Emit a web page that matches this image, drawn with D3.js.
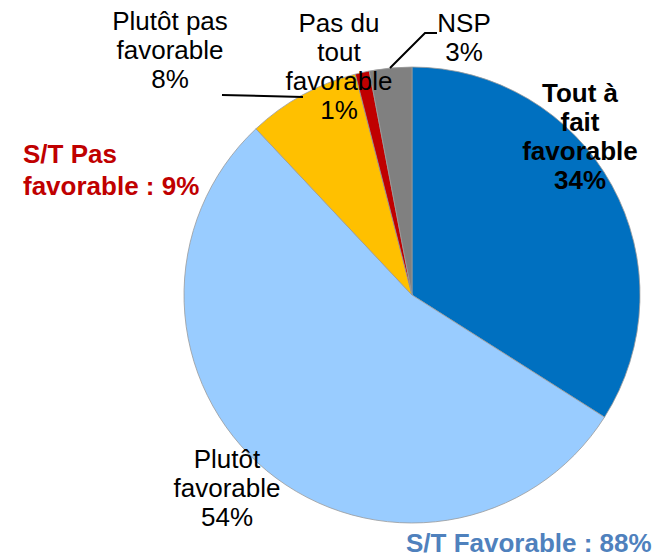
<!DOCTYPE html>
<html>
<head>
<meta charset="utf-8">
<script src="https://cdn.jsdelivr.net/npm/d3@7"></script>
<style>
  body { margin: 0; background: #fff; }
  svg { display: block; font-family: Arial, "Liberation Sans", sans-serif; }
</style>
</head>
<body>
<div id="chart"></div>
<script>
// slices, clockwise from 12 o'clock
const categories = ['Tout à fait favorable', 'Plutôt favorable', 'Plutôt pas favorable', 'Pas du tout favorable', 'NSP'];
const values = [34, 54, 8, 1, 3];
const colors = ['#0070C0', '#99CCFF', '#FFC000', '#C00000', '#808080'];
const labelLines = [
  ['Tout à', 'fait', 'favorable', '34%'],
  ['Plutôt', 'favorable', '54%'],
  ['Plutôt pas', 'favorable', '8%'],
  ['Pas du', 'tout', 'favorable', '1%'],
  ['NSP', '3%'],
];
const summaries = ['S/T Pas', 'favorable : 9%', 'S/T Favorable : 88%'];

const width = 670, height = 559;
const cx = 412, cy = 295, radius = 228;

const svg = d3.select('#chart')
  .append('svg')
  .attr('width', width)
  .attr('height', height);

const pie = d3.pie().sort(null).value((d) => d)
  .startAngle(0).endAngle(2 * Math.PI);
const arc = d3.arc().innerRadius(0).outerRadius(radius);

const g = svg.append('g').attr('transform', `translate(${cx},${cy})`);

g.selectAll('path')
  .data(pie(values))
  .join('path')
  .attr('d', arc)
  .attr('fill', (d, i) => colors[i])
  .attr('stroke', '#9a9a9a')
  .attr('stroke-width', 0.8);

// label placement (center x, first baseline, weight)
const labelPos = [
  { x: 580, y: 102, bold: true },
  { x: 227, y: 468, bold: false },
  { x: 170, y: 30, bold: false },
  { x: 339, y: 32, bold: false },
  { x: 464, y: 32, bold: false },
];
const lineH = 29;

labelLines.forEach((lines, i) => {
  const p = labelPos[i];
  const t = svg.append('text')
    .attr('text-anchor', 'middle')
    .attr('font-size', 26)
    .attr('font-weight', p.bold ? 'bold' : 'normal')
    .attr('fill', '#000');
  lines.forEach((s, j) => {
    t.append('tspan').attr('x', p.x).attr('y', p.y + j * lineH).text(s);
  });
});

// leader lines
const leader = d3.line();
svg.append('path')
  .attr('d', leader([[222, 95], [303, 97]]))
  .attr('fill', 'none').attr('stroke', '#000').attr('stroke-width', 2);
svg.append('path')
  .attr('d', leader([[390, 68], [425, 33], [437, 33]]))
  .attr('fill', 'none').attr('stroke', '#000').attr('stroke-width', 2);

// totals
svg.append('text')
  .attr('font-size', 26).attr('font-weight', 'bold').attr('fill', '#C00000')
  .selectAll('tspan')
  .data(summaries.slice(0, 2))
  .join('tspan')
  .attr('x', 23)
  .attr('y', (d, i) => 163 + i * 32)
  .text((d) => d);

svg.append('text')
  .attr('x', 406).attr('y', 552)
  .attr('font-size', 26).attr('font-weight', 'bold').attr('fill', '#4F81BD')
  .text(summaries[2]);
</script>
</body>
</html>
